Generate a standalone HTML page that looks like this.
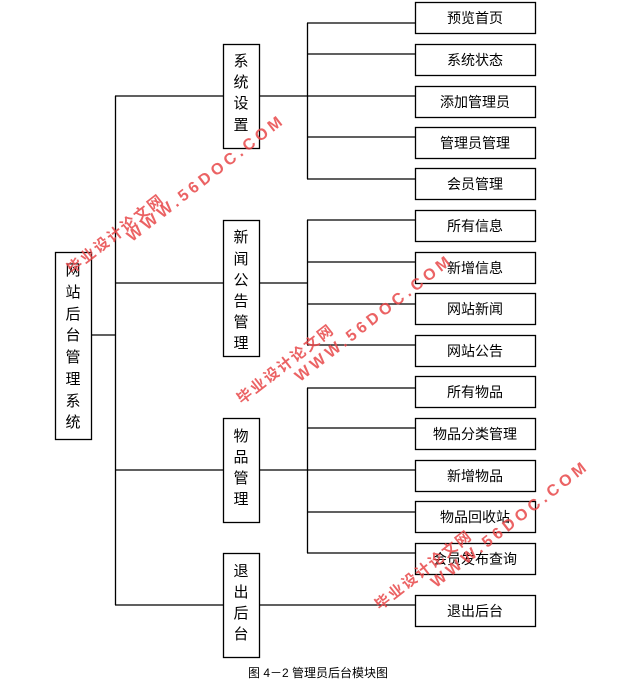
<!DOCTYPE html>
<html><head><meta charset="utf-8"><style>
body{margin:0;background:#fff;width:625px;height:686px;overflow:hidden;font-family:"Liberation Sans","Noto Sans CJK SC",sans-serif}
.wm{position:absolute;color:#e8484a;font-weight:bold;font-size:15px;transform:rotate(-38deg);transform-origin:left top;white-space:nowrap;letter-spacing:2px;opacity:.85}
.ww{font-size:16px;letter-spacing:4px}
</style></head><body>
<svg width="625" height="686" style="position:absolute;left:0;top:0" font-family="Liberation Sans, Noto Sans CJK SC, sans-serif">
<g stroke="#000" stroke-width="1.3" fill="none">
<rect x="55.5" y="252.5" width="36" height="187"/>
<line x1="91" y1="335" x2="115" y2="335"/>
<line x1="115.5" y1="96" x2="115.5" y2="605"/>
<line x1="115" y1="96" x2="223" y2="96"/>
<line x1="115" y1="283" x2="223" y2="283"/>
<line x1="115" y1="470" x2="223" y2="470"/>
<line x1="115" y1="605" x2="223" y2="605"/>
<rect x="223.5" y="44.5" width="36" height="104"/>
<rect x="223.5" y="220.5" width="36" height="136"/>
<rect x="223.5" y="418.5" width="36" height="104"/>
<rect x="223.5" y="553.5" width="36" height="104"/>
<line x1="259" y1="96" x2="307" y2="96"/>
<line x1="259" y1="283" x2="307" y2="283"/>
<line x1="259" y1="470" x2="307" y2="470"/>
<line x1="259" y1="605" x2="415" y2="605"/>
<line x1="307.5" y1="23" x2="307.5" y2="179"/>
<line x1="307.5" y1="220" x2="307.5" y2="345"/>
<line x1="307.5" y1="388" x2="307.5" y2="553"/>
<line x1="307" y1="23" x2="415" y2="23"/><line x1="307" y1="54" x2="415" y2="54"/><line x1="307" y1="96" x2="415" y2="96"/><line x1="307" y1="137" x2="415" y2="137"/><line x1="307" y1="179" x2="415" y2="179"/>
<line x1="307" y1="220" x2="415" y2="220"/><line x1="307" y1="262" x2="415" y2="262"/><line x1="307" y1="304" x2="415" y2="304"/><line x1="307" y1="345" x2="415" y2="345"/>
<line x1="307" y1="388" x2="415" y2="388"/><line x1="307" y1="428" x2="415" y2="428"/><line x1="307" y1="470" x2="415" y2="470"/><line x1="307" y1="512" x2="415" y2="512"/><line x1="307" y1="553" x2="415" y2="553"/>
<g fill="#fff">
<rect x="415.5" y="2.5" width="120" height="31"/><rect x="415.5" y="44.5" width="120" height="31"/><rect x="415.5" y="86.5" width="120" height="31"/><rect x="415.5" y="127.5" width="120" height="31"/><rect x="415.5" y="168.5" width="120" height="31"/>
<rect x="415.5" y="210.5" width="120" height="31"/><rect x="415.5" y="252.5" width="120" height="31"/><rect x="415.5" y="293.5" width="120" height="31"/><rect x="415.5" y="335.5" width="120" height="31"/>
<rect x="415.5" y="376.5" width="120" height="31"/><rect x="415.5" y="418.5" width="120" height="31"/><rect x="415.5" y="460.5" width="120" height="31"/><rect x="415.5" y="501.5" width="120" height="31"/><rect x="415.5" y="543.5" width="120" height="31"/>
<rect x="415.5" y="595.5" width="120" height="31"/>
</g></g>
<g font-size="14" text-anchor="middle" fill="#000">
<text x="475" y="23">预览首页</text><text x="475" y="65">系统状态</text><text x="475" y="107">添加管理员</text><text x="475" y="148">管理员管理</text><text x="475" y="189">会员管理</text>
<text x="475" y="231">所有信息</text><text x="475" y="273">新增信息</text><text x="475" y="314">网站新闻</text><text x="475" y="356">网站公告</text>
<text x="475" y="397">所有物品</text><text x="475" y="439">物品分类管理</text><text x="475" y="481">新增物品</text><text x="475" y="522">物品回收站</text><text x="475" y="564">会员发布查询</text>
<text x="475" y="616">退出后台</text>
<g font-size="15"><text x="73" y="275">网</text><text x="73" y="297">站</text><text x="73" y="319">后</text><text x="73" y="340">台</text><text x="73" y="362">管</text><text x="73" y="384">理</text><text x="73" y="406">系</text><text x="73" y="427">统</text>
<text x="241" y="66">系</text><text x="241" y="87">统</text><text x="241" y="108">设</text><text x="241" y="130">置</text>
<text x="241" y="242">新</text><text x="241" y="264">闻</text><text x="241" y="285">公</text><text x="241" y="306">告</text><text x="241" y="327">管</text><text x="241" y="348">理</text>
<text x="241" y="441">物</text><text x="241" y="462">品</text><text x="241" y="483">管</text><text x="241" y="504">理</text>
<text x="241" y="576">退</text><text x="241" y="597">出</text><text x="241" y="618">后</text><text x="241" y="639">台</text></g>
<text x="318" y="677" font-size="12">图 4－2 管理员后台模块图</text>
</g></svg>
<div class="wm" style="left:62px;top:262px">毕业设计论文网</div>
<div class="wm ww" style="left:124px;top:232px">WWW.56DOC.COM</div>
<div class="wm" style="left:232px;top:392px">毕业设计论文网</div>
<div class="wm ww" style="left:292px;top:372px">WWW.56DOC.COM</div>
<div class="wm" style="left:370px;top:598px">毕业设计论文网</div>
<div class="wm ww" style="left:428px;top:578px">WWW.56DOC.COM</div>
</body></html>
